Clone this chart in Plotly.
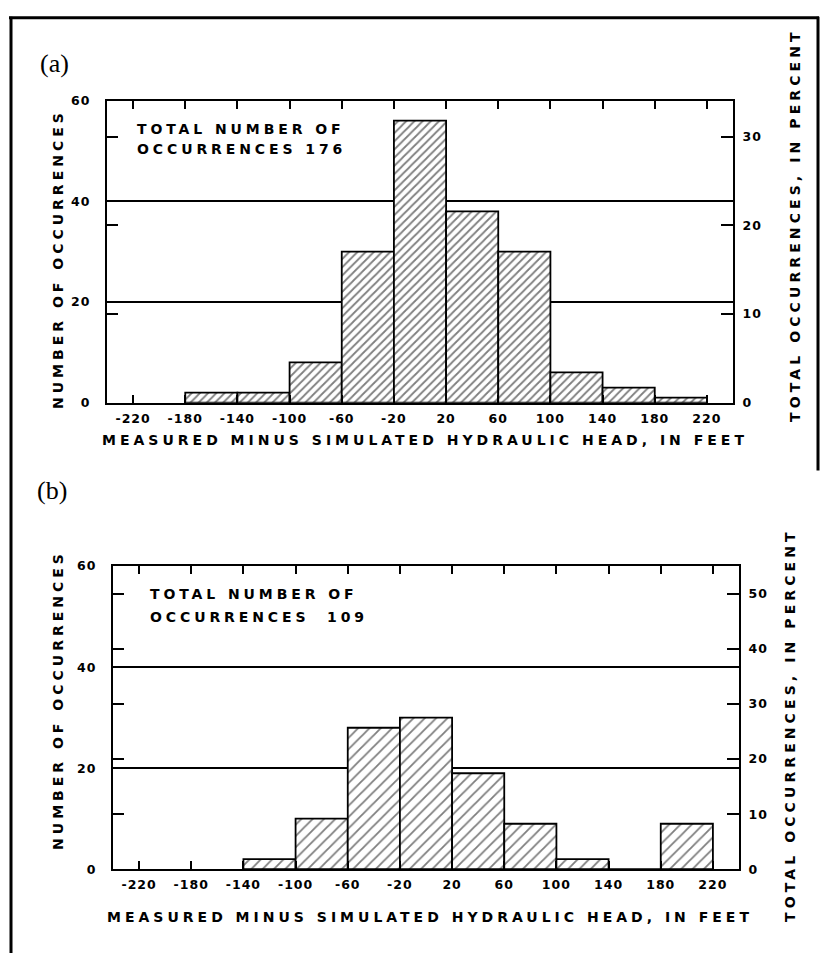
import json
import plotly.graph_objects as go

W, H = 823, 953

# Class limits along the horizontal axis (feet)
tick_values = [-220, -180, -140, -100, -60, -20, 20, 60, 100, 140, 180, 220]
tick_labels = ["-220", "-180", "-140", "-100", "-60", "-20",
               "20", "60", "100", "140", "180", "220"]
BIN_WIDTH = 40

# Panel (a): lower class limit of each bar and number of occurrences
bins_a_lower = [-180, -140, -100, -60, -20, 20, 60, 100, 140, 180]
counts_a = [2, 2, 8, 30, 56, 38, 30, 6, 3, 1]

# Panel (b)
bins_b_lower = [-140, -100, -60, -20, 20, 60, 100, 140, 180]
counts_b = [2, 10, 28, 30, 19, 9, 2, 0, 9]

count_ticks = [0, 20, 40, 60]
pct_ticks_a = [0, 10, 20, 30]
pct_ticks_b = [0, 10, 20, 30, 40, 50]

FONT = "DejaVu Sans"
SERIF = "Liberation Serif"


def fx(p):
    return p / W


def fy(p):
    return 1 - p / H


panels = [
    dict(lower=bins_a_lower, counts=counts_a, pct=pct_ticks_a,
         xname="x", yname="y", y2name="y2",
         xpx=(107, 733), ypx=(94, 401), hatch=5.8, label="(a)", label_xy=(54, 56),
         box_xy=(135, 123), box_gap=20, xtitle_xy=(425, 439),
         ltitle_xy=(58, 255), rtitle_xy=(795, 221)),
    dict(lower=bins_b_lower, counts=counts_b, pct=pct_ticks_b,
         xname="x2", yname="y3", y2name="y4",
         xpx=(113, 739), ypx=(567, 875), hatch=8.0, label="(b)", label_xy=(52, 490),
         box_xy=(148, 595), box_gap=24, xtitle_xy=(430, 924),
         ltitle_xy=(58, 703), rtitle_xy=(790, 729)),
]

fig = go.Figure()
layout = dict(width=W, height=H, margin=dict(l=0, r=0, t=0, b=0),
              paper_bgcolor="white", plot_bgcolor="rgba(0,0,0,0)",
              showlegend=False, annotations=[], shapes=[])

tick_font = dict(family=FONT, size=12.5, color="black", weight="bold")
title_font = dict(family=FONT, size=14, color="black", weight="bold")

for p in panels:
    total = sum(p["counts"])
    centers = [lo + BIN_WIDTH / 2 for lo in p["lower"]]
    pct = [100.0 * c / total for c in p["counts"]]

    fig.add_trace(go.Bar(
        x=centers, y=p["counts"], width=BIN_WIDTH,
        xaxis=p["xname"], yaxis=p["yname"],
        marker=dict(color="white",
                    line=dict(color="black", width=1.8),
                    pattern=dict(shape="/", fgcolor="black", bgcolor="white",
                                 size=p["hatch"], solidity=1.8 / p["hatch"])),
        hoverinfo="x+y",
    ))
    # invisible companion on the percent scale so the right axis is drawn
    fig.add_trace(go.Scatter(
        x=centers, y=pct, mode="markers", marker=dict(opacity=0),
        xaxis=p["xname"], yaxis=p["y2name"], hoverinfo="skip",
    ))

    xk = "xaxis" + p["xname"][1:]
    yk = "yaxis" + p["yname"][1:]
    y2k = "yaxis" + p["y2name"][1:]
    xdom = [fx(p["xpx"][0]), fx(p["xpx"][1])]
    ydom = [fy(p["ypx"][1]), fy(p["ypx"][0])]

    layout[xk] = dict(
        domain=xdom, range=[-240, 240], anchor=p["yname"],
        tickmode="array", tickvals=tick_values, ticktext=tick_labels,
        ticks="inside", ticklen=8, tickwidth=2, tickcolor="black",
        showline=True, linewidth=2, linecolor="black", mirror="ticks",
        showgrid=False, zeroline=False, tickfont=tick_font,
        ticklabelstandoff=3, fixedrange=True,
    )
    minor_vals = [total * k / 10 for k in range(1, 10) if total * k / 10 < 60]
    layout[yk] = dict(
        domain=ydom, range=[0, 60], anchor=p["xname"],
        tickmode="array", tickvals=count_ticks, ticks="",
        showgrid=True, gridcolor="black", gridwidth=2,
        showline=True, linewidth=2, linecolor="black", mirror=False,
        zeroline=False, tickfont=tick_font, ticklabelstandoff=12,
        minor=dict(tickmode="array", tickvals=minor_vals, ticks="inside",
                   ticklen=11, tickwidth=2, tickcolor="black", showgrid=False),
        fixedrange=True,
    )
    layout[y2k] = dict(
        overlaying=p["yname"], side="right", anchor=p["xname"],
        range=[0, 6000.0 / total],
        tickmode="array", tickvals=p["pct"], ticks="inside", ticklen=12,
        tickwidth=2, tickcolor="black",
        showline=True, linewidth=2, linecolor="black",
        showgrid=False, zeroline=False, tickfont=tick_font,
        ticklabelstandoff=5, fixedrange=True,
    )

    ann = layout["annotations"]
    ann.append(dict(text=p["label"], xref="paper", yref="paper",
                    x=fx(p["label_xy"][0]), y=fy(p["label_xy"][1]),
                    xanchor="center", yanchor="middle", showarrow=False,
                    font=dict(family=SERIF, size=26, color="black")))
    bx, by = p["box_xy"]
    ann.append(dict(text="TOTAL NUMBER OF", xref="paper", yref="paper",
                    x=fx(bx), y=fy(by), xanchor="left", yanchor="middle",
                    align="left", showarrow=False, font=title_font))
    gap = "\u00a0" if total > 150 else "\u00a0\u00a0"
    ann.append(dict(text="OCCURRENCES" + gap + str(total), xref="paper", yref="paper",
                    x=fx(bx), y=fy(by + p["box_gap"]), xanchor="left", yanchor="middle",
                    align="left", showarrow=False, font=title_font))
    tx, ty = p["xtitle_xy"]
    ann.append(dict(text="MEASURED MINUS SIMULATED HYDRAULIC HEAD, IN FEET",
                    xref="paper", yref="paper", x=fx(tx), y=fy(ty),
                    xanchor="center", yanchor="middle", showarrow=False,
                    font=title_font))
    lx, ly = p["ltitle_xy"]
    ann.append(dict(text="NUMBER OF OCCURRENCES", xref="paper", yref="paper",
                    x=fx(lx), y=fy(ly), xanchor="center", yanchor="middle",
                    textangle=-90, showarrow=False, font=title_font))
    rx, ry = p["rtitle_xy"]
    ann.append(dict(text="TOTAL OCCURRENCES, IN PERCENT", xref="paper", yref="paper",
                    x=fx(rx), y=fy(ry), xanchor="center", yanchor="middle",
                    textangle=-90, showarrow=False, font=title_font))

# page frame
frame = dict(color="black", width=3)
layout["shapes"] += [
    dict(type="line", xref="paper", yref="paper", x0=fx(11), x1=fx(11),
         y0=fy(9), y1=fy(960), line=frame),
    dict(type="line", xref="paper", yref="paper", x0=fx(9), x1=fx(819),
         y0=fy(10), y1=fy(10), line=frame),
    dict(type="line", xref="paper", yref="paper", x0=fx(818), x1=fx(818),
         y0=fy(9), y1=fy(470), line=frame),
]

fig.update_layout(**layout)

# wide lettering of the stencil-style labels
spacing_rules = [
    ["TOTAL NUMBER", 3.9],
    ["OCCURRENCES", 3.9],
    ["MEASURED", 4.0],
    ["NUMBER OF", 4.0],
    ["TOTAL OCCURRENCES", 4.1],
]
post = """
var gd = document.getElementById('{plot_id}');
var rules = %s;
gd.querySelectorAll('text').forEach(function(t){
  var s = t.textContent;
  for (var i = 0; i < rules.length; i++) {
    if (s.indexOf(rules[i][0]) === 0) { t.style.letterSpacing = rules[i][1] + 'px'; return; }
  }
  if (t.closest('.xtick, .x2tick, .ytick, .y2tick, .y3tick, .y4tick')) {
    t.style.letterSpacing = '1px';
  }
});
""" % json.dumps(spacing_rules)

fig.write_html("out.html", post_script=post, config={"staticPlot": True})
